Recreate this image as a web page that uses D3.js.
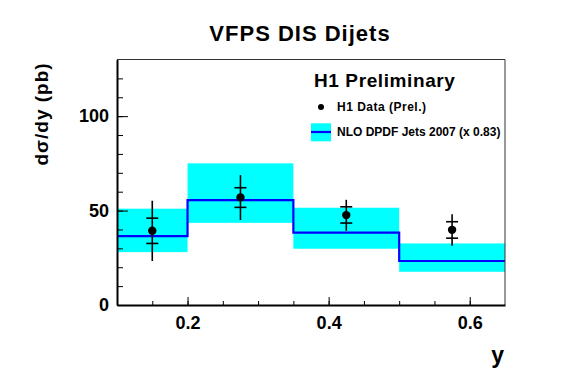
<!DOCTYPE html>
<html lang="en">
<head>
    <meta charset="UTF-8">
    <title>VFPS DIS Dijets</title>
    <script src="https://cdnjs.cloudflare.com/ajax/libs/d3/7.8.5/d3.min.js"></script>
    <style>
        body {
            margin: 0;
            background-color: white;
        }

        svg text {
            font-family: "Liberation Sans", Arial, sans-serif;
            font-weight: bold;
            fill: black;
        }

        .axis path, .axis line {
            stroke: black;
        }

        .axis text {
            font-size: 18px;
            font-family: "Liberation Sans", Arial, sans-serif;
            font-weight: bold;
        }
    </style>
</head>
<body>
<div id="chart"></div>
<script>
    // bins in y, NLO prediction (x 0.83) with its uncertainty band
    const binEdges = [0.1, 0.2, 0.35, 0.5, 0.65];
    const nloValues = [36.5, 55.5, 38.3, 23.3];
    const bandHigh = [51.0, 75.0, 51.5, 32.6];
    const bandLow = [28.0, 43.5, 29.8, 17.6];

    // H1 data points
    const dataX = [0.15, 0.275, 0.425, 0.575];
    const dataValues = [39.3, 57.0, 47.6, 39.8];
    const statHigh = [46.0, 62.1, 52.0, 44.1];
    const statLow = [32.6, 51.7, 43.4, 35.4];
    const totHigh = [55.2, 68.8, 55.7, 48.1];
    const totLow = [23.3, 45.0, 39.3, 31.4];

    const xMajorTicks = [0.2, 0.4, 0.6];
    const xMinorTicks = [0.15, 0.2, 0.25, 0.3, 0.35, 0.4, 0.45, 0.5, 0.55, 0.6];
    const yMajorTicks = [0, 50, 100];
    const yMinorTicks = [10, 20, 30, 40, 50, 60, 70, 80, 90, 100, 110, 120];

    const width = 567;
    const height = 384;
    const frameL = 117, frameR = 505, frameT = 59.5, frameB = 305;

    const svg = d3.select('#chart')
        .append('svg')
        .attr('width', width)
        .attr('height', height);

    const x = d3.scaleLinear().domain([0.1, 0.65]).range([frameL, frameR]);
    const y = d3.scaleLinear().domain([0, 130]).range([frameB, frameT]);

    svg.append('clipPath').attr('id', 'frame')
        .append('rect')
        .attr('x', frameL).attr('y', frameT)
        .attr('width', frameR - frameL).attr('height', frameB - frameT);

    const plot = svg.append('g').attr('clip-path', 'url(#frame)');

    // uncertainty band
    plot.selectAll('rect.band')
        .data(nloValues)
        .enter()
        .append('rect')
        .attr('class', 'band')
        .attr('x', (d, i) => x(binEdges[i]))
        .attr('width', (d, i) => x(binEdges[i + 1]) - x(binEdges[i]))
        .attr('y', (d, i) => y(bandHigh[i]))
        .attr('height', (d, i) => y(bandLow[i]) - y(bandHigh[i]))
        .attr('fill', '#00ffff');

    // NLO step line
    const steps = binEdges.map((e, i) => [e, nloValues[Math.min(i, nloValues.length - 1)]]);
    plot.append('path')
        .datum(steps)
        .attr('d', d3.line().x(d => x(d[0])).y(d => y(d[1])).curve(d3.curveStepAfter))
        .attr('fill', 'none')
        .attr('stroke', '#0000ff')
        .attr('stroke-width', 2.2);

    // frame top/right
    svg.append('path')
        .attr('d', `M${frameL},${frameT}H${frameR}V${frameB}`)
        .attr('fill', 'none')
        .attr('stroke', '#333')
        .attr('stroke-width', 1);

    // axes: minor ticks first, then labelled major ticks
    svg.append('g').attr('class', 'axis')
        .attr('transform', `translate(0,${frameB})`)
        .call(d3.axisBottom(x).tickValues(xMinorTicks).tickSizeInner(-4).tickSizeOuter(0).tickFormat(''))
        .call(g => g.select('.domain').attr('stroke-width', 2));
    svg.append('g').attr('class', 'axis')
        .attr('transform', `translate(0,${frameB})`)
        .call(d3.axisBottom(x).tickValues(xMajorTicks).tickSizeInner(-8).tickSizeOuter(0).tickPadding(11)
            .tickFormat(d3.format('.1f')))
        .call(g => g.select('.domain').remove());

    svg.append('g').attr('class', 'axis')
        .attr('transform', `translate(${frameL},0)`)
        .call(d3.axisLeft(y).tickValues(yMinorTicks).tickSizeInner(-6).tickSizeOuter(0).tickFormat(''))
        .call(g => g.select('.domain').attr('stroke-width', 2));
    svg.append('g').attr('class', 'axis')
        .attr('transform', `translate(${frameL},0)`)
        .call(d3.axisLeft(y).tickValues(yMajorTicks).tickSizeInner(-11).tickSizeOuter(0).tickPadding(8)
            .tickFormat(d3.format('d')))
        .call(g => g.select('.domain').remove());

    // data points with stat (ticks) and total errors
    const pts = svg.append('g');
    dataX.forEach((dx, i) => {
        const cx = x(dx);
        pts.append('line')
            .attr('x1', cx).attr('x2', cx)
            .attr('y1', y(totHigh[i])).attr('y2', y(totLow[i]))
            .attr('stroke', 'black').attr('stroke-width', 1.6);
        [statHigh[i], statLow[i]].forEach(v => {
            pts.append('line')
                .attr('x1', cx - 6).attr('x2', cx + 6)
                .attr('y1', y(v)).attr('y2', y(v))
                .attr('stroke', 'black').attr('stroke-width', 1.6);
        });
        pts.append('circle')
            .attr('cx', cx).attr('cy', y(dataValues[i]))
            .attr('r', 4.2)
            .attr('fill', 'black');
    });

    // title and axis labels
    svg.append('text')
        .attr('x', 300).attr('y', 41)
        .attr('text-anchor', 'middle')
        .style('font-size', '22px')
        .style('letter-spacing', '1px')
        .text('VFPS DIS Dijets');

    svg.append('text')
        .attr('transform', 'translate(48,114) rotate(-90)')
        .attr('text-anchor', 'middle')
        .style('font-size', '19px')
        .style('letter-spacing', '1px')
        .text('dσ/dy (pb)');

    svg.append('text')
        .attr('x', 504).attr('y', 363)
        .attr('text-anchor', 'end')
        .style('font-size', '23px')
        .text('y');

    // legend
    svg.append('text')
        .attr('x', 314).attr('y', 86.5)
        .style('font-size', '19px')
        .style('letter-spacing', '0.6px')
        .text('H1 Preliminary');

    svg.append('circle')
        .attr('cx', 321).attr('cy', 107)
        .attr('r', 3)
        .attr('fill', 'black');
    svg.append('text')
        .attr('x', 337).attr('y', 111)
        .style('font-size', '12px')
        .style('letter-spacing', '0.5px')
        .text('H1 Data (Prel.)');

    svg.append('rect')
        .attr('x', 311).attr('y', 123.3)
        .attr('width', 20).attr('height', 18)
        .attr('fill', '#00ffff');
    svg.append('line')
        .attr('x1', 311).attr('x2', 331)
        .attr('y1', 132).attr('y2', 132)
        .attr('stroke', '#0000ff').attr('stroke-width', 2.2);
    svg.append('text')
        .attr('x', 337).attr('y', 136)
        .style('font-size', '12px')
        .text('NLO DPDF Jets 2007 (x 0.83)');
</script>
</body>
</html>
